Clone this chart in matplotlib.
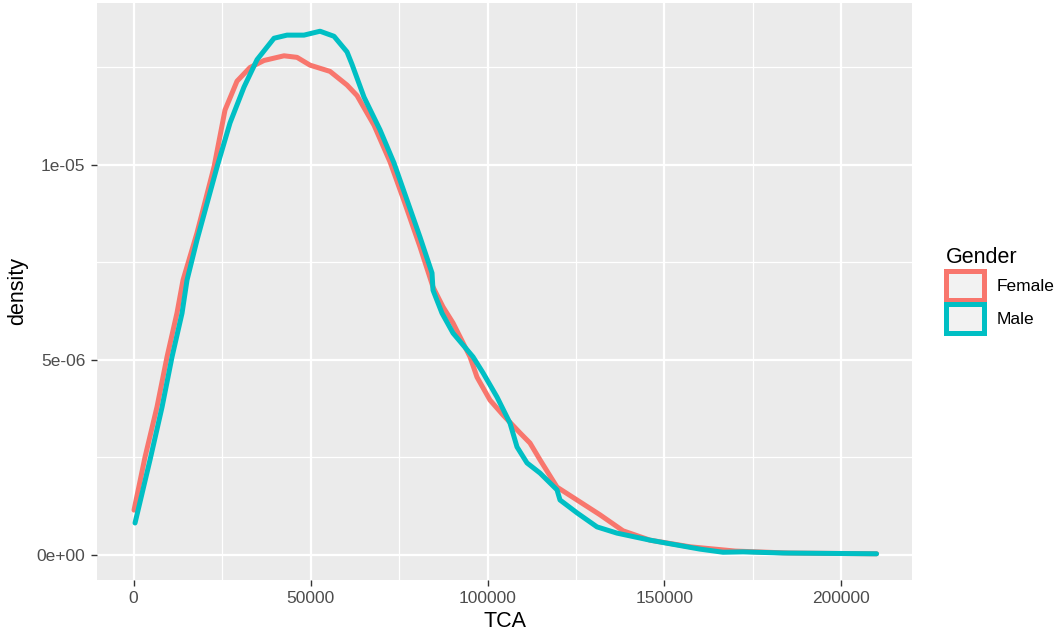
import matplotlib
matplotlib.use("Agg")
import matplotlib.pyplot as plt
from matplotlib.patches import Patch

plt.rcParams['font.family'] = ['Liberation Sans', 'DejaVu Sans']

# density curves (TCA, density in 1e-6 units)
female_tca = [141, 3249, 6639, 9464, 12288, 13983, 17938, 22740, 25847, 29237,
              32910, 36864, 42514, 46186, 49859, 55508, 60311, 63136, 67938,
              72458, 76413, 80933, 84605, 87430, 90255, 93080, 95058, 97035,
              100707, 104380, 109182, 112007, 114832, 119634, 125284, 131781,
              138279, 145906, 157206, 170000, 185000, 209900]
female_dens = [1.15, 2.51, 3.80, 5.08, 6.21, 7.05, 8.26, 9.95, 11.41, 12.15,
               12.50, 12.68, 12.80, 12.76, 12.56, 12.40, 12.05, 11.78, 11.02,
               10.08, 9.08, 7.90, 6.87, 6.36, 5.95, 5.44, 5.08, 4.56,
               3.97, 3.59, 3.13, 2.87, 2.44, 1.74, 1.41, 1.03,
               0.62, 0.38, 0.21, 0.10, 0.05, 0.03]

male_tca = [424, 4661, 8051, 10876, 13701, 15113, 17938, 23588, 27260, 31215,
            34887, 39690, 43362, 48164, 52684, 56639, 60311, 61723, 65113,
            69633, 73588, 77260, 80933, 84323, 84605, 87147, 90255, 95905,
            98730, 102685, 106357, 108335, 111160, 114832, 119634, 120482,
            125284, 130933, 136583, 145906, 150144, 160031, 166529, 172179,
            183479, 209900]
male_dens = [0.82, 2.44, 3.79, 5.08, 6.20, 7.05, 8.08, 9.95, 11.08, 12.00,
             12.70, 13.25, 13.33, 13.33, 13.43, 13.30, 12.90, 12.58, 11.74,
             10.90, 10.05, 9.10, 8.15, 7.23, 6.79, 6.20, 5.69, 5.08,
             4.67, 4.05, 3.38, 2.77, 2.36, 2.10, 1.67, 1.41,
             1.08, 0.72, 0.56, 0.38, 0.31, 0.15, 0.07, 0.08,
             0.05, 0.03]

groups = ['Female', 'Male']
colors = ['#F8766D', '#00BFC4']

x_ticks = [0, 50000, 100000, 150000, 200000]
x_labels = ['0', '50000', '100000', '150000', '200000']
y_ticks = [0, 5e-06, 1e-05]
y_labels = ['0e+00', '5e-06', '1e-05']

fig = plt.figure(figsize=(10.57, 6.36), dpi=100)
ax = fig.add_axes([0.0918, 0.0881, 0.7710, 0.9072])
ax.set_facecolor('#EBEBEB')

series = [(female_tca, female_dens), (male_tca, male_dens)]
for (xs, ys), color in zip(series, colors):
    ax.plot(xs, [v * 1e-6 for v in ys], color=color, lw=3.6,
            solid_joinstyle='round', solid_capstyle='round', zorder=3)

ax.set_xlim(-10311, 219915)
ax.set_ylim(-6.41e-7, 1.4154e-5)

ax.set_xticks(x_ticks)
ax.set_xticklabels(x_labels)
ax.set_yticks(y_ticks)
ax.set_yticklabels(y_labels)
ax.set_xticks([25000, 75000, 125000, 175000], minor=True)
ax.set_yticks([2.5e-06, 7.5e-06, 1.25e-05], minor=True)

ax.grid(which='major', color='white', lw=1.6, zorder=0)
ax.grid(which='minor', color='white', lw=0.9, zorder=0)
ax.set_axisbelow(True)
for s in ax.spines.values():
    s.set_visible(False)

ax.tick_params(which='major', length=4.3, width=1.0, color='#333333',
               labelcolor='#4D4D4D', labelsize=12.5, pad=4)
ax.tick_params(which='minor', length=0)

ax.set_xlabel('TCA', fontsize=15.5, color='black', labelpad=3)
ax.set_ylabel('density', fontsize=15.5, color='black', labelpad=6)

handles = [Patch(facecolor='#F2F2F2', edgecolor=c, lw=3.6) for c in colors]
leg = ax.legend(handles, groups, title='Gender', loc='upper left',
                bbox_to_anchor=(0.895, 0.612), bbox_transform=fig.transFigure,
                frameon=False, fontsize=12.5, title_fontsize=15.5,
                handlelength=2.2, handleheight=2.2, labelspacing=0.2,
                handletextpad=0.7, borderpad=0, borderaxespad=0,
                alignment='left')

fig.savefig('out.png', dpi=100)
